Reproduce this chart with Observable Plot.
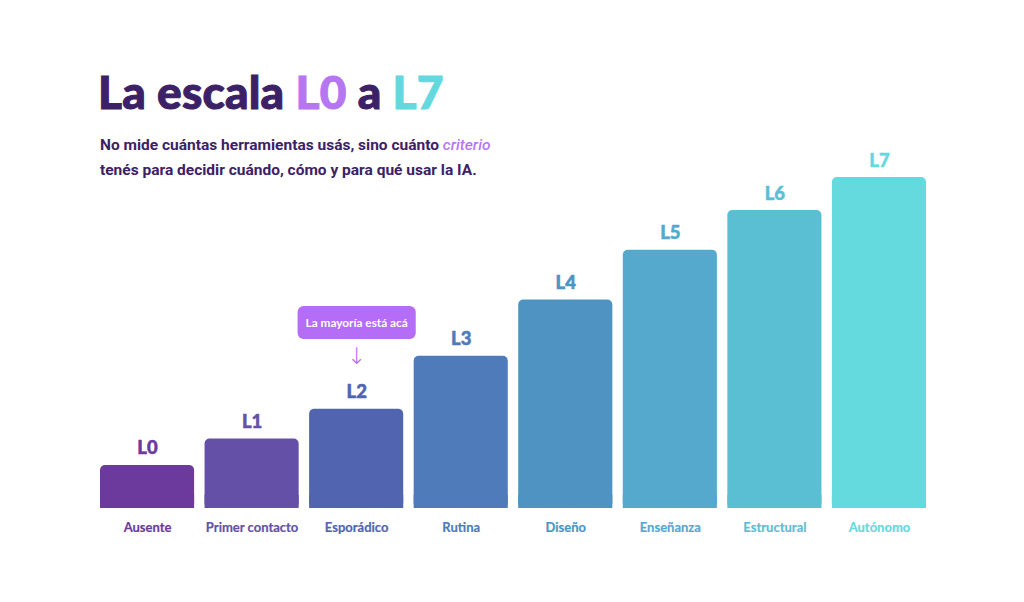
<!DOCTYPE html>
<html lang="es">
<head>
<meta charset="utf-8">
<script src="https://cdn.jsdelivr.net/npm/d3@7"></script>
<script src="https://cdn.jsdelivr.net/npm/@observablehq/plot@0.6"></script>
<style>
  html, body { margin: 0; padding: 0; background: #ffffff; }
  #wrap { position: relative; width: 1024px; height: 602px; overflow: hidden; }
  #chart { position: absolute; left: 0; top: 0; }
  .title {
    position: absolute; left: 98px; top: 69px; margin: 0;
    font-family: Lato, sans-serif; font-weight: 900; font-size: 46px; line-height: 1;
    color: #3c2166; letter-spacing: 0.2px; white-space: nowrap;
    -webkit-text-stroke: 1px currentColor;
  }
  .title .lo { color: #b676f2; }
  .title .hi { color: #63d8de; }
  .subtitle {
    position: absolute; left: 100px; top: 133px; margin: 0;
    font-family: Roboto, sans-serif; font-weight: 700; font-size: 15.5px;
    line-height: 25px; color: #3c2166; white-space: nowrap;
  }
  .subtitle em { color: #b676f2; font-style: italic; font-weight: 500; }
  .level-tag text { stroke-width: 0.5px; }
  .category text { stroke-width: 0.2px; }
</style>
</head>
<body>
<div id="wrap">
  <div id="chart"></div>
  <h1 class="title">La escala <span class="lo">L0</span> a <span class="hi">L7</span></h1>
  <p class="subtitle">No mide cuántas herramientas usás, sino cuánto <em>criterio</em><br>tenés para decidir cuándo, cómo y para qué usar la IA.</p>
</div>
<script>
// Levels of the scale, their names and relative bar heights
const levels = ["L0", "L1", "L2", "L3", "L4", "L5", "L6", "L7"];
const names = ["Ausente", "Primer contacto", "Esporádico", "Rutina", "Diseño", "Enseñanza", "Estructural", "Autónomo"];
const heights = [13, 21, 30, 46, 63, 78, 90, 100];
const palette = ["#6b3a9c", "#6450a7", "#5164b0", "#4f7bba", "#4e93c2", "#55a9cd", "#5abfd3", "#64d9de"];

// Callout pointing at the most common level
const calloutLevel = "Esporádico";
const calloutText = "La mayoría está acá";
const calloutColor = "#b56cf6";

const rows = names.map((name, i) => ({name, level: levels[i], value: heights[i], color: palette[i]}));
const callout = rows.filter(d => d.name === calloutLevel).map(d => ({...d, text: calloutText}));

const chart = Plot.plot({
  width: 1024,
  height: 602,
  marginTop: 177,
  marginBottom: 94,
  marginLeft: 100,
  marginRight: 98,
  style: {fontFamily: "Lato, sans-serif", background: "transparent"},
  x: {domain: names, paddingInner: 0.1, paddingOuter: 0, round: false, axis: null},
  y: {domain: [0, 100], axis: null},
  color: {type: "identity"},
  marks: [
    // rounded bar, then a square-cornered base so only the top corners stay round
    Plot.barY(rows, {x: "name", y: "value", fill: "color", rx: 5}),
    Plot.barY(rows, {x: "name", y1: 0, y2: d => Math.min(d.value, 4), fill: "color"}),
    // level tag above each bar
    Plot.text(rows, {x: "name", y: "value", text: "level", fill: "color", stroke: "color", lineAnchor: "bottom", dy: -11,
      fontSize: 18.5, fontWeight: 900, className: "level-tag"}),
    // category name under each bar
    Plot.text(rows, {x: "name", y: 0, text: "name", fill: "color", stroke: "color", lineAnchor: "middle", dy: 19,
      fontSize: 13, fontWeight: 700, className: "category"}),
    // callout arrow and label above the highlighted level
    Plot.text(callout, {x: "name", y: "value", text: () => "↓", fill: calloutColor, lineAnchor: "middle", dy: -53,
      fontSize: 23, fontFamily: "DejaVu Sans", fontWeight: 200}),
    Plot.text(callout, {x: "name", y: "value", text: "text", fill: "#ffffff", lineAnchor: "middle", dy: -86,
      fontSize: 11.8, fontWeight: 700, className: "callout-label"})
  ]
});

document.getElementById("chart").appendChild(chart);

// pill behind the callout label
const label = chart.querySelector(".callout-label text");
if (label) {
  const b = label.getBBox();
  const padX = 8, padY = 9;
  const g = label.parentNode;
  const rect = document.createElementNS("http://www.w3.org/2000/svg", "rect");
  rect.setAttribute("x", b.x - padX);
  rect.setAttribute("y", b.y - padY);
  rect.setAttribute("width", b.width + 2 * padX);
  rect.setAttribute("height", b.height + 2 * padY);
  rect.setAttribute("rx", 6);
  rect.setAttribute("fill", calloutColor);
  if (label.getAttribute("transform")) rect.setAttribute("transform", label.getAttribute("transform"));
  g.insertBefore(rect, label);
}
</script>
</body>
</html>
